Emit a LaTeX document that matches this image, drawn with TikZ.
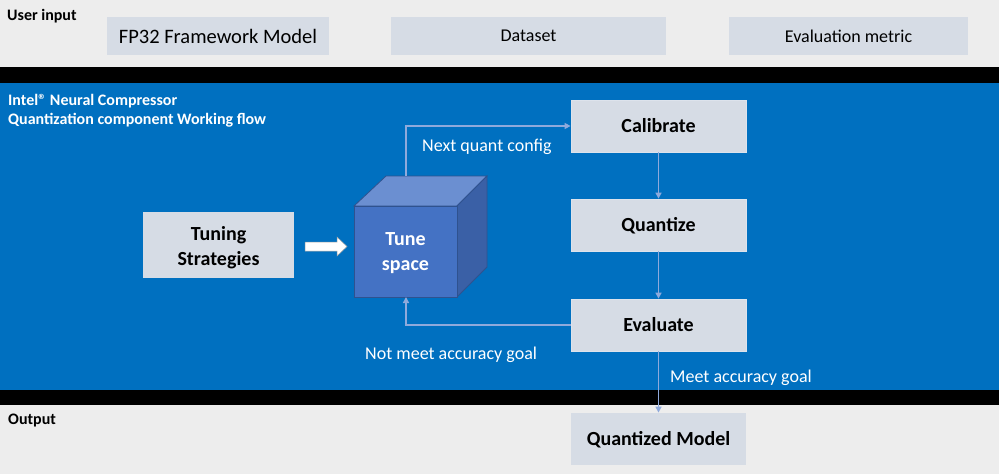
\documentclass[tikz,border=0pt]{standalone}
\usepackage{fontspec}
\setmainfont{Carlito}
\usetikzlibrary{arrows.meta}
\definecolor{bggrey}{HTML}{EDEDED}
\definecolor{bandblue}{HTML}{0070C0}
\definecolor{boxfill}{HTML}{D6DCE5}
\definecolor{boxline}{HTML}{DDE3EC}
\definecolor{flow}{HTML}{8FAADC}
\definecolor{cubefront}{HTML}{4472C4}
\definecolor{cubetop}{HTML}{6B8FD1}
\definecolor{cubeside}{HTML}{3A60A6}
\definecolor{cubeline}{HTML}{2F528F}
\newcommand{\fsz}[2]{\fontsize{#1}{#2}\selectfont}
\tikzset{
  inbox/.style={fill=boxfill, draw=none, inner sep=0pt, text=black},
  flowbox/.style={fill=boxfill, draw=boxline, line width=0.8pt, inner sep=0pt, minimum width=175, minimum height=52, font=\fsz{20}{25}\bfseries, text=black, text height=13pt, text depth=0pt},
  flowline/.style={draw=flow, line width=1.5pt, -{Triangle[length=6pt,width=6pt]}},
  sectlabel/.style={anchor=west, font=\fsz{16}{19}\bfseries, inner sep=0pt},
  flowlabel/.style={font=\fsz{18}{22}, text=white, inner sep=0pt},
}
\begin{document}
\begin{tikzpicture}[x=1pt,y=-1pt]
\useasboundingbox (0,0) rectangle (999,474);
% backgrounds
\fill[bggrey] (0,0) rectangle (999,67);
\fill[black] (0,67) rectangle (999,83);
\fill[bandblue] (0,83) rectangle (999,390);
\fill[black] (0,390) rectangle (999,405);
\fill[bggrey] (0,405) rectangle (999,474);
% section labels
\node[sectlabel] (userin) at (7,16.5) {User input};
\node[sectlabel, text=white, align=left] (title) at (8,111) {Intel® Neural Compressor\\Quantization component Working flow};
\node[sectlabel] (outlbl) at (8,420.5) {Output};
% inputs
\node[inbox, minimum width=222, minimum height=38, font=\fsz{20.5}{25}] (fp) at (218,36) {FP32 Framework Model};
\node[inbox, minimum width=275, minimum height=38, font=\fsz{18}{22}] (data) at (528.5,36) {Dataset};
\node[inbox, minimum width=239, minimum height=38, font=\fsz{18}{22}] (metric) at (848.5,36) {Evaluation metric};
% flow boxes
\node[flowbox] (cal) at (658.5,126) {Calibrate};
\node[flowbox] (quant) at (658.5,225) {Quantize};
\node[flowbox] (eval) at (658.5,325) {Evaluate};
\node[flowbox, draw=none] (qmodel) at (658.5,439) {Quantized Model};
\node[fill=boxfill, inner sep=0pt, minimum width=151, minimum height=66] (tuning) at (218.5,245) {};
\node[align=center, font=\fsz{20}{25}\bfseries, text=black, inner sep=0pt] (tuningtxt) at (218.5,247.5) {Tuning\\Strategies};
% cube
\fill[cubetop, draw=cubeline, line width=0.8pt] (354,206) -- (386,176) -- (487,176) -- (457,206) -- cycle;
\fill[cubeside, draw=cubeline, line width=0.8pt] (457,206) -- (487,176) -- (487,267) -- (457,297) -- cycle;
\fill[cubefront, draw=cubeline, line width=0.8pt] (354,206) rectangle (457,297);
\node[align=center, text=white, font=\fsz{20}{25}\bfseries, inner sep=0pt] (tune) at (405.5,253.5) {Tune\\space};
\coordinate (cubetopc) at (406,176);
\coordinate (cubebot) at (406,297);
% block arrow
\fill[white, draw=gray!70, line width=0.5pt] (305,242) -- (337,242) -- (337,237) -- (347,246.5) -- (337,256) -- (337,251) -- (305,251) -- cycle;
% connectors
\draw[flowline] (cubetopc) |- (cal.west);
\draw[flowline] (cal.south) -- (quant.north);
\draw[flowline] (quant.south) -- (eval.north);
\draw[flowline] (eval.west) -| (cubebot);
\draw[flowline] (eval.south) -- (qmodel.north);
% labels
\node[flowlabel, anchor=west] (lnext) at (422,147) {Next quant config};
\node[flowlabel, anchor=west] (lnot) at (365,354.5) {Not meet accuracy goal};
\node[flowlabel, anchor=west] (lmeet) at (670,377.5) {Meet accuracy goal};
\end{tikzpicture}
\end{document}
